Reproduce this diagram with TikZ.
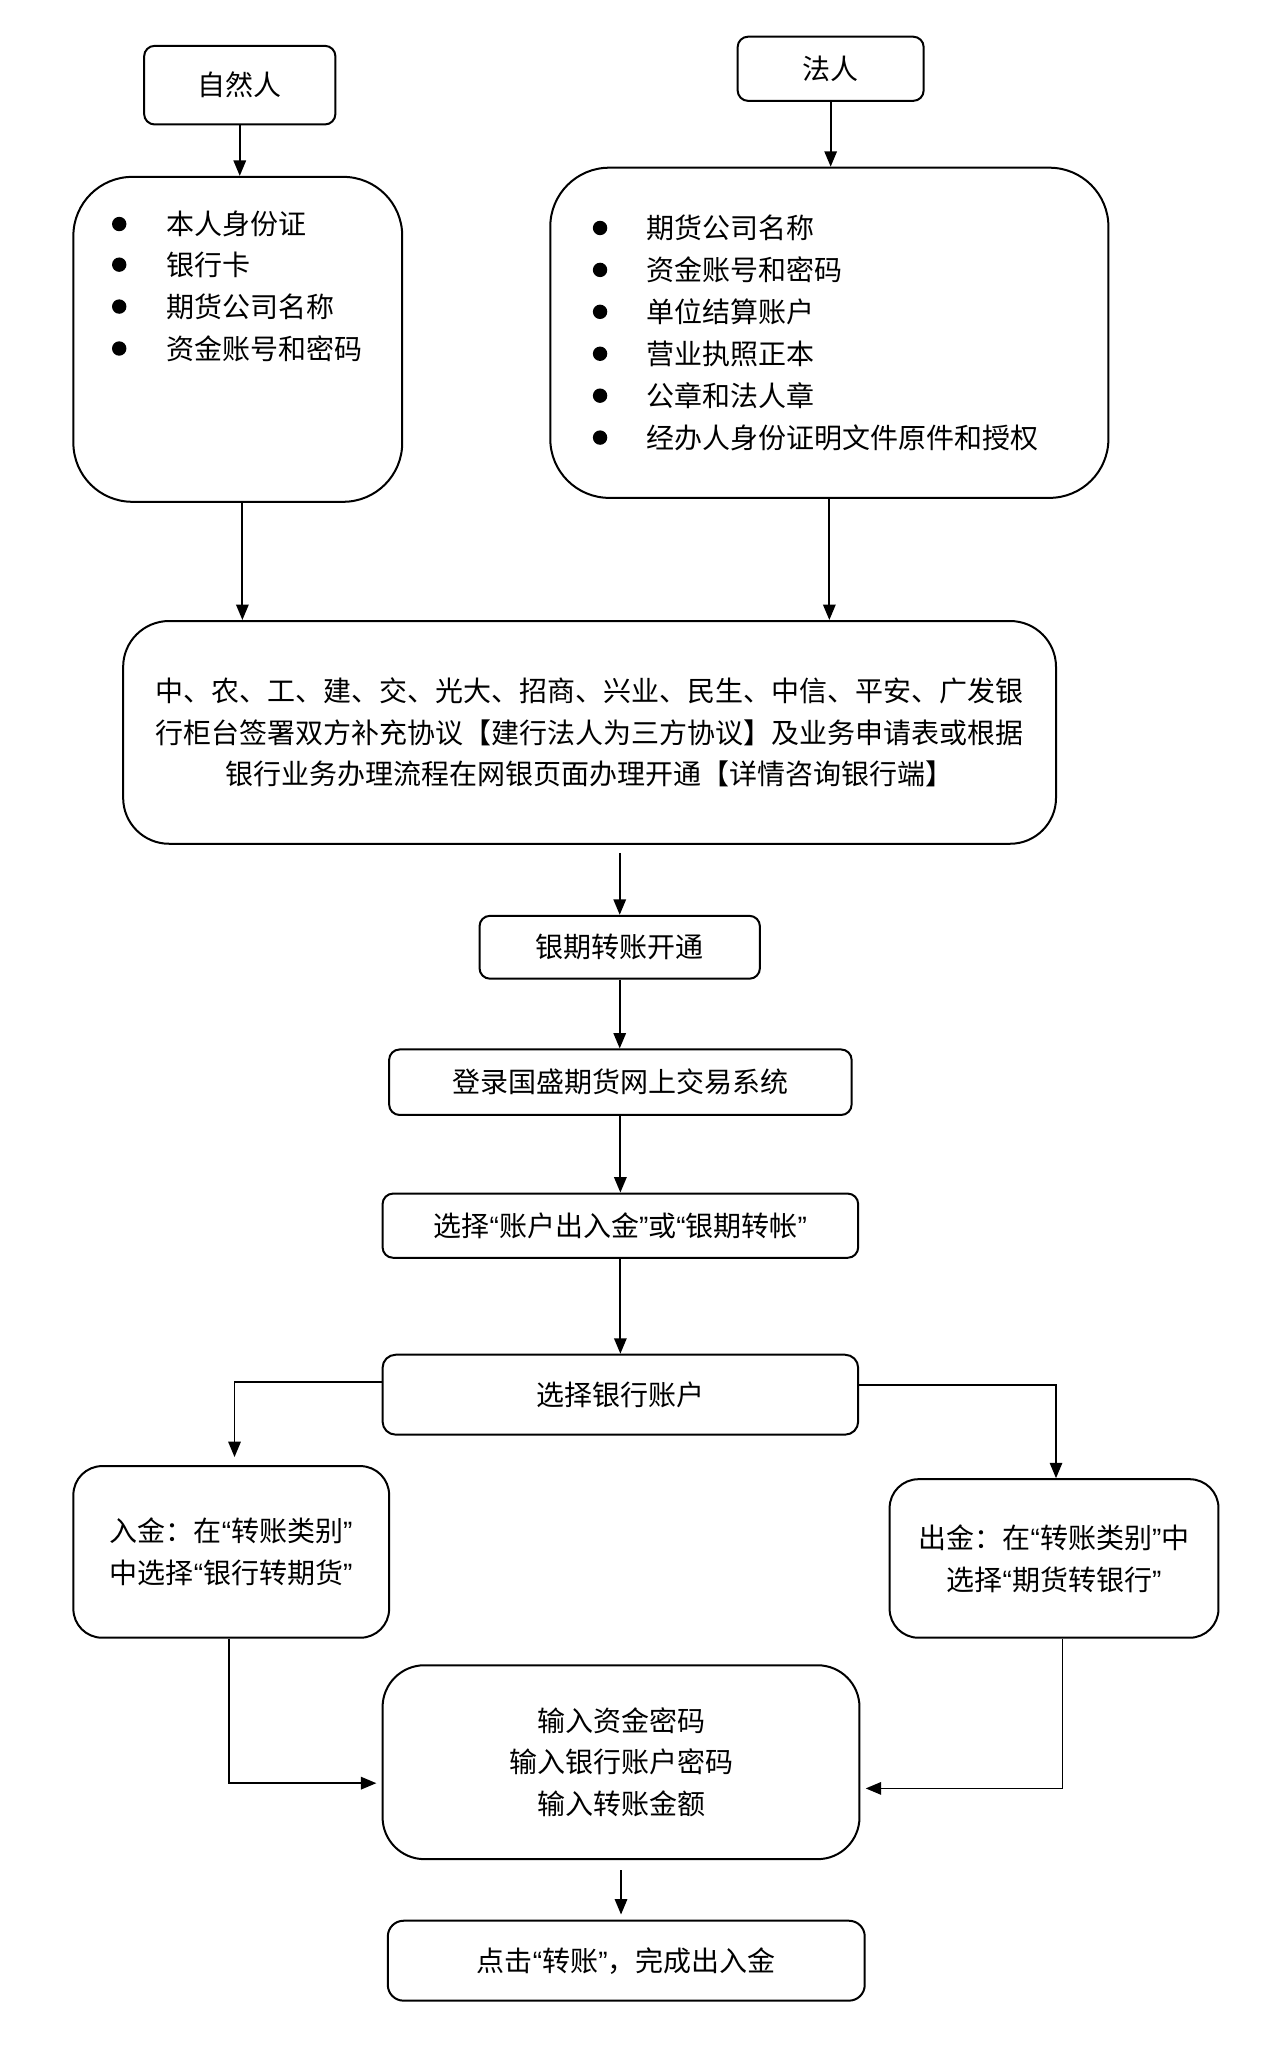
\documentclass[tikz,border=0pt]{standalone}
\usepackage{fontspec}
\setmainfont{Noto Sans CJK SC}
\newfontfamily\latinf{Liberation Sans}
\usetikzlibrary{arrows.meta}
\newcommand\pxu{0.6551pt}
\newcommand\myoq{{\latinf “}}
\newcommand\mycq{{\latinf ”}}
\tikzset{
  box/.style={draw, line width=1pt, inner sep=0pt, align=center,
    font=\fontsize{14pt}{20.9pt}\selectfont},
  item/.style={anchor=west, inner sep=0pt, font=\fontsize{14pt}{20.9pt}\selectfont},
  arr/.style={-{Triangle[length=7.7pt,width=6.2pt]}, line width=0.9pt},
  dot/.style={fill=black}
}
\begin{document}
\begin{tikzpicture}[x=0.6551pt, y=-0.6551pt]
\fill[white] (0,0) rectangle (980,1566.2);
\useasboundingbox (0,0) rectangle (980,1566.2);

\node[box, rounded corners=8*\pxu, minimum width=146*\pxu, minimum height=60*\pxu] (zrr) at (183,65) {自然人};
\node[box, rounded corners=8*\pxu, minimum width=142*\pxu, minimum height=49*\pxu] (fr) at (634,52.5) {法人};

\node[box, rounded corners=45*\pxu, minimum width=251*\pxu, minimum height=248*\pxu] (lb) at (181.5,259) {};
\node[box, rounded corners=45*\pxu, minimum width=426*\pxu, minimum height=252*\pxu] (rb) at (633,254) {};

\fill[dot] (91,171) circle (3.6pt); \node[item] (l1) at (127,171) {本人身份证};
\fill[dot] (91,202) circle (3.6pt); \node[item] (l2) at (127,202) {银行卡};
\fill[dot] (91,234) circle (3.6pt); \node[item] (l3) at (127,234) {期货公司名称};
\fill[dot] (91,266) circle (3.6pt); \node[item] (l4) at (127,266) {资金账号和密码};

\fill[dot] (458,174) circle (3.6pt); \node[item] (r1) at (493,174) {期货公司名称};
\fill[dot] (458,206) circle (3.6pt); \node[item] (r2) at (493,206) {资金账号和密码};
\fill[dot] (458,238) circle (3.6pt); \node[item] (r3) at (493,238) {单位结算账户};
\fill[dot] (458,270) circle (3.6pt); \node[item] (r4) at (493,270) {营业执照正本};
\fill[dot] (458,302) circle (3.6pt); \node[item] (r5) at (493,302) {公章和法人章};
\fill[dot] (458,334) circle (3.6pt); \node[item] (r6) at (493,334) {经办人身份证明文件原件和授权};

\node[box, rounded corners=35*\pxu, minimum width=712*\pxu, minimum height=170*\pxu] (big) at (450,559)
  {中、农、工、建、交、光大、招商、兴业、民生、中信、平安、广发银\\
   行柜台签署双方补充协议【建行法人为三方协议】及业务申请表或根据\\
   银行业务办理流程在网银页面办理开通【详情咨询银行端】};

\node[box, rounded corners=8*\pxu, minimum width=214*\pxu, minimum height=48*\pxu] (kt) at (473,723) {银期转账开通};
\node[box, rounded corners=8*\pxu, minimum width=353*\pxu, minimum height=50*\pxu] (dl) at (473.5,826) {登录国盛期货网上交易系统};
\node[box, rounded corners=8*\pxu, minimum width=363*\pxu, minimum height=49*\pxu] (xz) at (473.5,935.5) {选择\myoq 账户出入金\mycq 或\myoq 银期转帐\mycq};
\node[box, rounded corners=10*\pxu, minimum width=363*\pxu, minimum height=61*\pxu] (yh) at (473.5,1064.5) {选择银行账户};
\node[box, rounded corners=22*\pxu, minimum width=241*\pxu, minimum height=131*\pxu] (rj) at (176.5,1184.5) {入金：在\myoq 转账类别\mycq\\中选择\myoq 银行转期货\mycq};
\node[box, rounded corners=22*\pxu, minimum width=251*\pxu, minimum height=121*\pxu] (cj) at (804.5,1189.5) {出金：在\myoq 转账类别\mycq 中\\选择\myoq 期货转银行\mycq};
\node[box, rounded corners=32*\pxu, minimum width=364*\pxu, minimum height=148*\pxu] (sr) at (474,1345) {输入资金密码\\输入银行账户密码\\输入转账金额};
\node[box, rounded corners=12*\pxu, minimum width=364*\pxu, minimum height=61*\pxu] (dj) at (478,1496.5) {点击\myoq 转账\mycq，完成出入金};

\draw[arr] (zrr.south) -- (zrr.south |- lb.north);
\draw[arr] (fr.south) -- (fr.south |- rb.north);
\draw[arr] ([xshift=3.5*\pxu]lb.south) -- ([xshift=3.5*\pxu]lb.south |- big.north);
\draw[arr] (rb.south) -- (rb.south |- big.north);
\draw[arr, shorten <=4pt] (kt.north |- big.south) -- (kt.north);
\draw[arr] (kt.south) -- (kt.south |- dl.north);
\draw[arr] (dl.south) -- (dl.south |- xz.north);
\draw[arr] (xz.south) -- (xz.south |- yh.north);
\draw[arr, shorten >=4pt] ([yshift=9.5*\pxu]yh.west) -| ([xshift=2.5*\pxu]rj.north);
\draw[arr] ([yshift=7.5*\pxu]yh.east) -| ([xshift=1.5*\pxu]cj.north);
\draw[arr, shorten >=2.6pt] ([xshift=-1.5*\pxu]rj.south) |- ([yshift=-16*\pxu]sr.west);
\draw[arr, shorten >=2.6pt] ([xshift=6.5*\pxu]cj.south) |- ([yshift=-20*\pxu]sr.east);
\draw[arr, shorten <=5pt, shorten >=2.6pt] (sr.south) -- (sr.south |- dj.north);
\end{tikzpicture}
\end{document}
